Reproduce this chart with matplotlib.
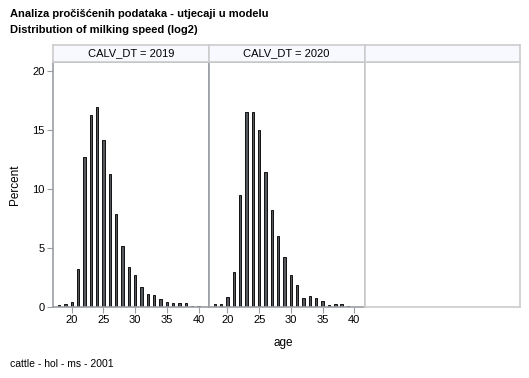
import matplotlib
matplotlib.use("Agg")
import matplotlib.pyplot as plt

plt.rcParams['font.family'] = ['Liberation Sans', 'DejaVu Sans']

ages = list(range(18, 41))
pct_2019 = [0.2, 0.28, 0.45, 3.25, 12.7, 16.3, 16.9, 14.15, 11.3, 7.9, 5.2, 3.35,
            2.7, 1.7, 1.07, 1.0, 0.65, 0.4, 0.3, 0.33, 0.3, 0.1, 0.08]
pct_2020 = [0.28, 0.28, 0.85, 2.95, 9.45, 16.5, 16.5, 15.0, 11.45, 8.2, 6.0, 4.25,
            2.75, 1.85, 0.75, 0.95, 0.75, 0.55, 0.15, 0.25, 0.22, 0.08, 0.0]
panel_labels = ["CALV_DT = 2019", "CALV_DT = 2020", ""]
xticks = [20, 25, 30, 35, 40]
yticks = [0, 5, 10, 15, 20]

W, H = 529, 378
fig = plt.figure(figsize=(W / 100, H / 100), dpi=100)

def fx(px):
    return px / W

def fy(py):
    return 1 - py / H

edges = [53, 208.7, 364.5, 520]
top_px, bot_px, head_top = 62, 307, 44.5
dark = '#9a9da3'
light = '#cccccc'
series = [pct_2019, pct_2020, None]

for i in range(3):
    l, r = edges[i], edges[i + 1]
    ax = fig.add_axes([fx(l), fy(bot_px), fx(r - l), fy(top_px) - fy(bot_px)])
    hax = fig.add_axes([fx(l), fy(top_px), fx(r - l), fy(head_top) - fy(top_px)])
    hax.set_xticks([]); hax.set_yticks([])
    hax.set_facecolor('#f7f9ff')
    for s in hax.spines.values():
        s.set_color(light); s.set_linewidth(1.2)
    hax.text(0.5, 0.5, panel_labels[i], ha='center', va='center', fontsize=8,
             transform=hax.transAxes)

    ax.set_xlim(17.05, 41.6)
    ax.set_ylim(0, 20.75)
    data = series[i]
    if data is not None:
        ax.bar(ages, data, width=0.38, color='#55585d', edgecolor='#111111', linewidth=0.7)
        for s in ax.spines.values():
            s.set_color(dark); s.set_linewidth(1.2)
        ax.set_xticks(xticks)
        ax.set_xticklabels([str(t) for t in xticks], fontsize=8)
        ax.tick_params(axis='x', length=4, width=0.8, color=dark, pad=2)
    else:
        for s in ax.spines.values():
            s.set_color(light); s.set_linewidth(1.2)
        ax.set_xticks([])
    if i == 0:
        ax.set_yticks(yticks)
        ax.set_yticklabels([str(t) for t in yticks], fontsize=8)
        ax.tick_params(axis='y', length=4, width=0.8, color=dark, pad=2)
        ax.set_ylabel('Percent', fontsize=8.5, labelpad=8)
    else:
        ax.set_yticks([])

fig.text(fx(10), fy(14), 'Analiza pročišćenih podataka - utjecaji u modelu',
         fontsize=8, fontweight='bold', ha='left', va='center')
fig.text(fx(10), fy(30), 'Distribution of milking speed (log2)',
         fontsize=8, fontweight='bold', ha='left', va='center')
fig.text(fx(283), fy(343), 'age', fontsize=8.5, ha='center', va='center')
fig.text(fx(10), fy(364), 'cattle - hol - ms - 2001', fontsize=7.5, ha='left', va='center')

fig.savefig('out.png', dpi=100)
